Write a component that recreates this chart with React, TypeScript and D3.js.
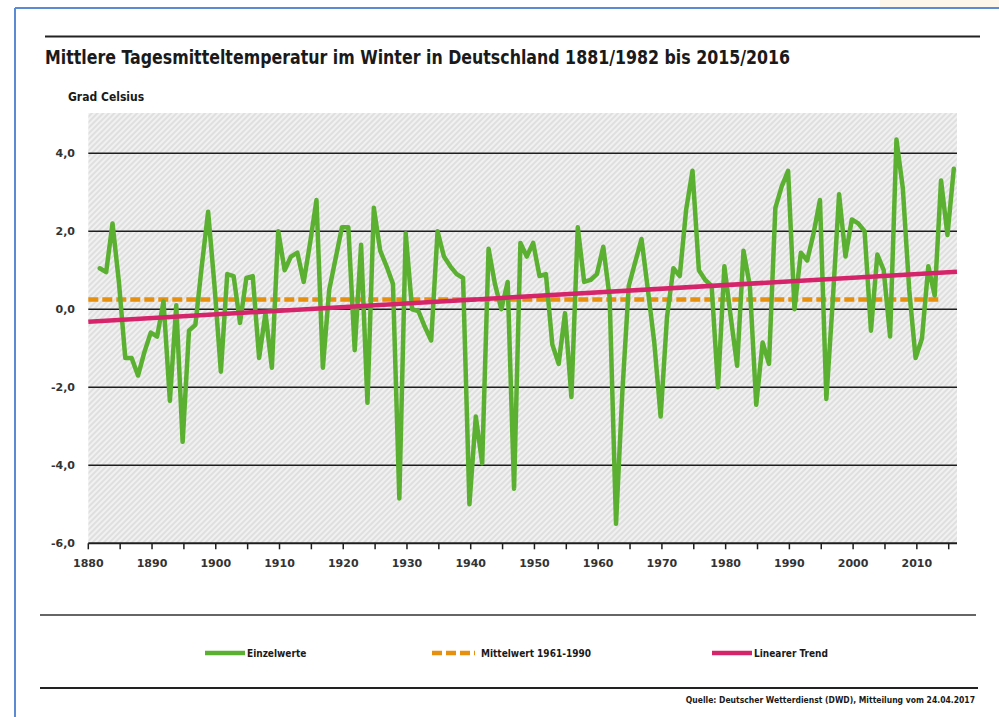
import React, { useEffect, useRef } from 'react'
import * as d3 from 'd3'

// Winter mean temperature (DJF) Germany, winters 1881/82 .. 2015/16
const firstWinter = 1882
const winterTemps = [
    1.05, 0.95, 2.2, 0.7, -1.25, -1.25, -1.7, -1.1, -0.6, -0.7,      // 1882-1891
    0.2, -2.35, 0.1, -3.4, -0.55, -0.4, 1.1, 2.5, 0.6, -1.6,          // 1892-1901
    0.9, 0.85, -0.35, 0.8, 0.85, -1.25, -0.1, -1.5, 2.0, 1.0,         // 1902-1911
    1.35, 1.45, 0.7, 1.7, 2.8, -1.5, 0.5, 1.3, 2.1, 2.1,              // 1912-1921
    -1.05, 1.65, -2.4, 2.6, 1.5, 1.1, 0.65, -4.85, 1.95, 0.0,         // 1922-1931
    -0.05, -0.45, -0.8, 2.0, 1.35, 1.1, 0.9, 0.8, -5.0, -2.75,        // 1932-1941
    -3.95, 1.55, 0.65, 0.0, 0.7, -4.6, 1.7, 1.35, 1.7, 0.85,          // 1942-1951
    0.9, -0.9, -1.4, -0.1, -2.25, 2.1, 0.7, 0.75, 0.9, 1.6,           // 1952-1961
    0.3, -5.5, -2.1, 0.6, 1.2, 1.8, 0.5, -0.85, -2.75, -0.2,          // 1962-1971
    1.05, 0.85, 2.55, 3.55, 1.0, 0.75, 0.6, -2.0, 1.1, -0.2,          // 1972-1981
    -1.45, 1.5, 0.6, -2.45, -0.85, -1.4, 2.6, 3.15, 3.55, 0.0,        // 1982-1991
    1.45, 1.25, 1.95, 2.8, -2.3, 0.2, 2.95, 1.35, 2.3, 2.2,           // 1992-2001
    2.0, -0.55, 1.4, 1.0, -0.7, 4.35, 3.1, 0.5, -1.25, -0.75,         // 2002-2011
    1.1, 0.35, 3.3, 1.9, 3.6                                          // 2012-2016
]
const meanValue = 0.25          // Mittelwert 1961-1990
const meanEndYear = 2013.6
const trendStartValue = -0.32
const trendEndValue = 0.96
const yTicks = [-6, -4, -2, 0, 2, 4]
const xLabels = [1880, 1890, 1900, 1910, 1920, 1930, 1940, 1950, 1960, 1970, 1980, 1990, 2000, 2010]
const xMinorTicks = [1880, 1885, 1890, 1895, 1900, 1905, 1910, 1915, 1920, 1925, 1930, 1935, 1940, 1945,
    1950, 1955, 1960, 1965, 1970, 1975, 1980, 1985, 1990, 1995, 2000, 2005, 2010, 2015]

const green = '#5bb031'
const orange = '#e6900e'
const pink = '#d6246b'
const narrow = '"Liberation Sans Narrow", "DejaVu Sans Condensed", Arial, sans-serif'
const tickFont = '"DejaVu Sans", Verdana, sans-serif'

export default function App() {
    const ref = useRef<SVGSVGElement>(null)

    useEffect(() => {
        const svg = d3.select(ref.current)
        svg.selectAll('*').remove()

        const plot = { left: 88.3, right: 957, top: 113, bottom: 543.3 }
        const x = d3.scaleLinear().domain([1880, 2016.3]).range([plot.left, plot.right])
        const y = d3.scaleLinear().domain([-6, 5.03]).range([plot.bottom, plot.top])

        // page decoration
        svg.append('rect').attr('x', 880).attr('y', 0).attr('width', 119).attr('height', 7).attr('fill', '#fcf5ea')
        svg.append('line').attr('x1', 15).attr('x2', 999).attr('y1', 8).attr('y2', 8)
            .attr('stroke', '#5b8bd2').attr('stroke-width', 2)
        svg.append('line').attr('x1', 15).attr('x2', 15).attr('y1', 8).attr('y2', 717)
            .attr('stroke', '#5b8bd2').attr('stroke-width', 2)

        // rules
        svg.append('line').attr('x1', 45).attr('x2', 980).attr('y1', 36.5).attr('y2', 36.5)
            .attr('stroke', '#222').attr('stroke-width', 2)
        svg.append('line').attr('x1', 40).attr('x2', 976).attr('y1', 615).attr('y2', 615)
            .attr('stroke', '#333').attr('stroke-width', 1.5)
        svg.append('line').attr('x1', 40).attr('x2', 978).attr('y1', 688).attr('y2', 688)
            .attr('stroke', '#222').attr('stroke-width', 2)

        // title
        svg.append('text').attr('x', 45).attr('y', 64)
            .attr('font-family', narrow).attr('font-weight', 'bold').attr('font-size', 19)
            .attr('fill', '#1a1a1a')
            .attr('textLength', 745).attr('lengthAdjust', 'spacingAndGlyphs')
            .text('Mittlere Tagesmitteltemperatur im Winter in Deutschland 1881/1982 bis 2015/2016')
        svg.append('text').attr('x', 68).attr('y', 101)
            .attr('font-family', narrow).attr('font-weight', 'bold').attr('font-size', 12)
            .attr('fill', '#1a1a1a')
            .text('Grad Celsius')

        // hatched background
        const defs = svg.append('defs')
        const pat = defs.append('pattern').attr('id', 'hatch').attr('patternUnits', 'userSpaceOnUse')
            .attr('width', 4).attr('height', 4).attr('patternTransform', 'rotate(45)')
        pat.append('rect').attr('width', 4).attr('height', 4).attr('fill', '#f1f1f1')
        pat.append('line').attr('x1', 1).attr('x2', 1).attr('y1', 0).attr('y2', 4)
            .attr('stroke', '#d6d6d6').attr('stroke-width', 1.3)
        svg.append('rect').attr('x', plot.left).attr('y', plot.top)
            .attr('width', plot.right - plot.left).attr('height', plot.bottom - plot.top)
            .attr('fill', 'url(#hatch)')

        // grid lines
        svg.append('g').selectAll('line').data(yTicks).enter().append('line')
            .attr('x1', plot.left).attr('x2', plot.right)
            .attr('y1', d => y(d)).attr('y2', d => y(d))
            .attr('stroke', '#1e1e1e').attr('stroke-width', d => d === -6 ? 2 : 1.4)

        // y labels
        const fmt = (v: number) => d3.format('.1f')(v).replace('.', ',').replace('−', '-')
        svg.append('g').selectAll('text').data(yTicks).enter().append('text')
            .attr('x', 75).attr('y', d => y(d) + 4)
            .attr('text-anchor', 'end')
            .attr('font-family', tickFont).attr('font-weight', 'bold').attr('font-size', 11)
            .attr('fill', '#333')
            .text(d => fmt(d))

        // x ticks + labels
        svg.append('g').selectAll('line').data(xMinorTicks).enter().append('line')
            .attr('x1', d => x(d)).attr('x2', d => x(d))
            .attr('y1', plot.bottom).attr('y2', plot.bottom + 6)
            .attr('stroke', '#1e1e1e').attr('stroke-width', 1.5)
        svg.append('g').selectAll('text').data(xLabels).enter().append('text')
            .attr('x', d => x(d)).attr('y', 567)
            .attr('text-anchor', 'middle')
            .attr('font-family', tickFont).attr('font-weight', 'bold').attr('font-size', 11)
            .attr('fill', '#333')
            .text(d => d)

        // Mittelwert 1961-1990
        svg.append('line')
            .attr('x1', x(1880)).attr('x2', x(meanEndYear))
            .attr('y1', y(meanValue)).attr('y2', y(meanValue))
            .attr('stroke', orange).attr('stroke-width', 4.5).attr('stroke-dasharray', '10,4')

        // Einzelwerte
        const points = winterTemps.map((v, i) => ({ year: firstWinter + i - 0.2, value: v }))
        const line = d3.line<{ year: number, value: number }>()
            .x(d => x(d.year)).y(d => y(d.value))
        svg.append('path').datum(points)
            .attr('d', line)
            .attr('fill', 'none').attr('stroke', green).attr('stroke-width', 4.5)
            .attr('stroke-linejoin', 'round').attr('stroke-linecap', 'round')

        // linear trend
        svg.append('line')
            .attr('x1', x(1880)).attr('x2', x(2016.3))
            .attr('y1', y(trendStartValue)).attr('y2', y(trendEndValue))
            .attr('stroke', pink).attr('stroke-width', 4.5)

        // legend
        const legendY = 653
        const legend = [
            { label: 'Einzelwerte', color: green, x0: 205, x1: 245, dash: null },
            { label: 'Mittelwert 1961-1990', color: orange, x0: 432, x1: 475, dash: '10,4' },
            { label: 'Linearer Trend', color: pink, x0: 712, x1: 752, dash: null }
        ]
        const lg = svg.append('g').selectAll('g').data(legend).enter().append('g')
        lg.append('line')
            .attr('x1', d => d.x0).attr('x2', d => d.x1)
            .attr('y1', legendY).attr('y2', legendY)
            .attr('stroke', d => d.color).attr('stroke-width', 4.5)
            .attr('stroke-dasharray', d => d.dash)
        lg.append('text')
            .attr('x', d => d.x1 + (d.dash ? 6 : 2)).attr('y', legendY + 4)
            .attr('font-family', narrow).attr('font-weight', 'bold').attr('font-size', 10)
            .attr('fill', '#1a1a1a')
            .text(d => d.label)

        // source
        svg.append('text').attr('x', 975).attr('y', 703)
            .attr('text-anchor', 'end')
            .attr('font-family', narrow).attr('font-weight', 'bold').attr('font-size', 8.5)
            .attr('fill', '#1a1a1a')
            .text('Quelle: Deutscher Wetterdienst (DWD), Mitteilung vom 24.04.2017')
    }, [])

    return (
        <svg ref={ref} width={999} height={717}
            style={{ position: 'absolute', left: 0, top: 0, background: '#fff' }} />
    )
}
